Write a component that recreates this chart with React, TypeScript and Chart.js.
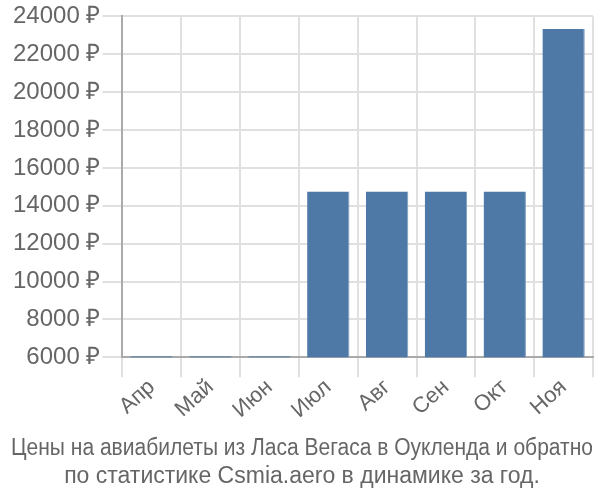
import React, { useEffect, useRef } from "react";
import { Chart, registerables } from "chart.js";

Chart.register(...registerables);

const categories = ["Апр", "Май", "Июн", "Июл", "Авг", "Сен", "Окт", "Ноя"];
const prices = [6050, 6050, 6050, 14750, 14750, 14750, 14750, 23340];
const titleLines = [
  "Цены на авиабилеты из Ласа Вегаса в Оукленда и обратно",
  "по статистике Csmia.aero в динамике за год.",
];

export default function App() {
  const ref = useRef<HTMLCanvasElement | null>(null);
  useEffect(() => {
    if (!ref.current) return;
    const chart = new Chart(ref.current, {
      type: "bar",
      data: {
        labels: categories,
        datasets: [
          {
            data: prices,
            backgroundColor: "#4e79a7",
            borderColor: "#7d9cc0",
            borderWidth: { right: 1 } as any,
            categoryPercentage: 0.8,
            barPercentage: 0.9,
          },
        ],
      },
      options: {
        animation: false,
        responsive: false,
        maintainAspectRatio: false,
        layout: { padding: { left: 11, right: 7, top: -2, bottom: 0 } },
        plugins: {
          legend: { display: false },
          tooltip: { enabled: false },
          title: {
            display: true,
            position: "bottom",
            text: titleLines,
            color: "#666",
            font: { family: "'Liberation Sans', sans-serif", size: 23, weight: "normal" },
            padding: { top: 14, bottom: 10 },
            lineHeight: 1.17,
          },
        },
        scales: {
          x: {
            grid: { color: "#e0e0e0", lineWidth: 2, tickLength: 20, offset: true },
            border: { color: "#aaa", width: 2 },
            ticks: {
              color: "#666",
              padding: -3,
              font: { family: "'Liberation Sans', sans-serif", size: 22 },
              maxRotation: 42,
              minRotation: 42,
            },
          },
          y: {
            min: 6000,
            max: 24000,
            grid: { color: "#e0e0e0", lineWidth: 2, tickLength: 20 },
            border: { color: "#aaa", width: 2 },
            ticks: {
              stepSize: 2000,
              color: "#666",
              padding: 2,
              font: { family: "'Liberation Sans', sans-serif", size: 24 },
              callback: (v: any) => v + " ₽",
            },
          },
        },
      },
    });
    return () => chart.destroy();
  }, []);
  return (
    <div style={{ position: "fixed", left: 0, top: 0, width: 600, height: 500, background: "#fff" }}>
      <canvas ref={ref} width={600} height={500} style={{ width: 600, height: 500 }} />
    </div>
  );
}
